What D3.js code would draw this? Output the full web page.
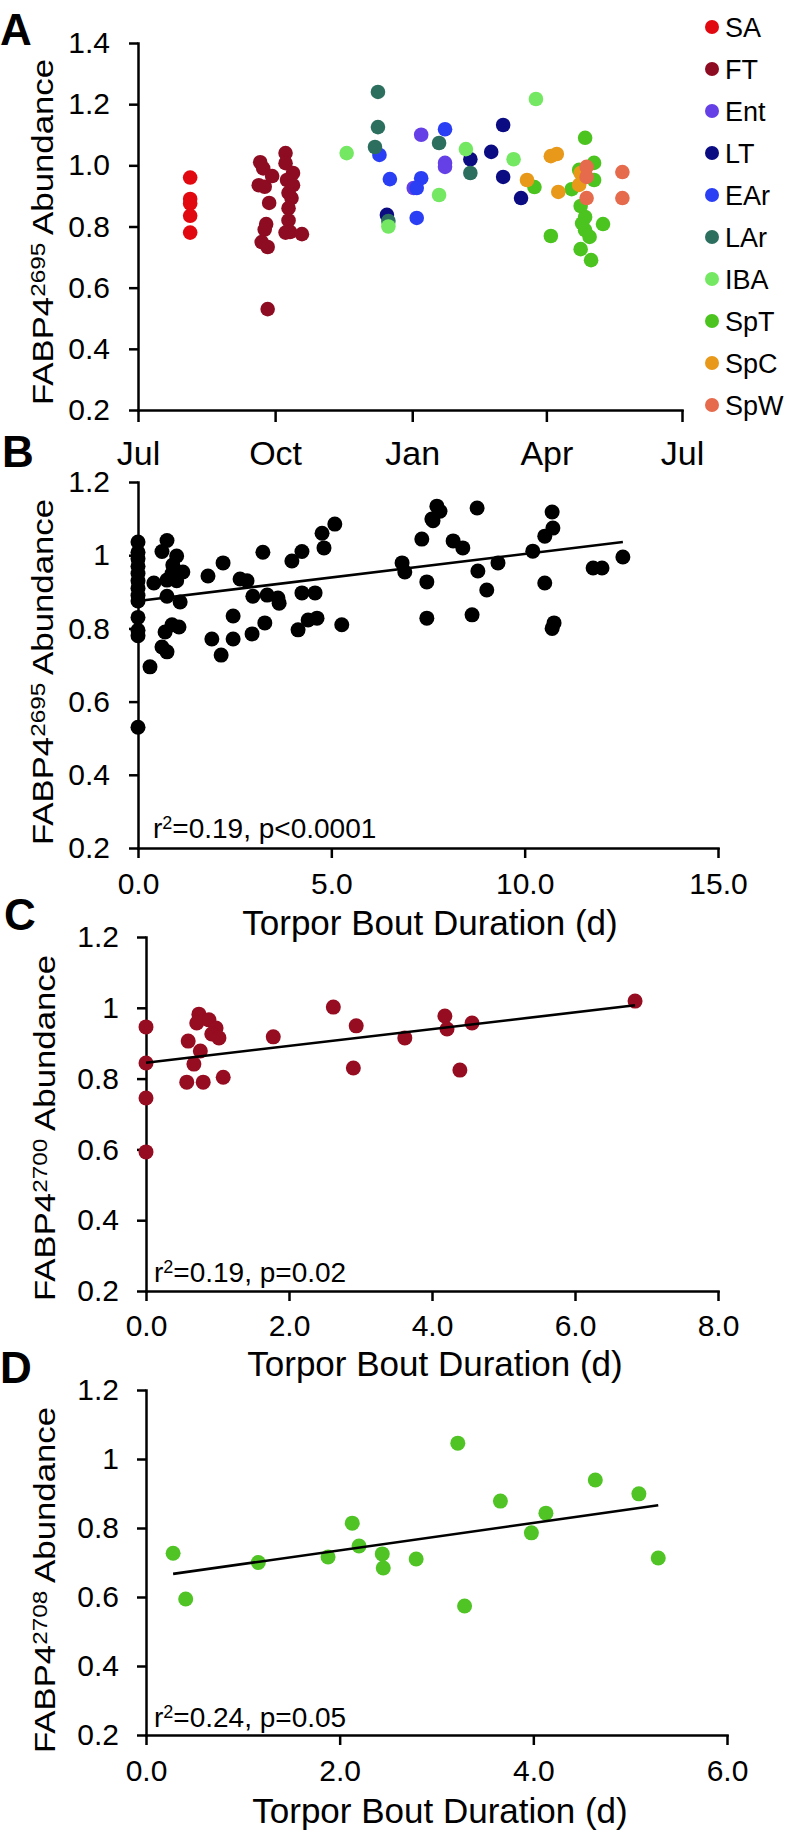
<!DOCTYPE html>
<html><head><meta charset="utf-8">
<script src="https://cdn.jsdelivr.net/npm/d3@7"></script>
<style>body{margin:0;background:#fff}</style>
</head><body><svg id="chart" width="788" height="1832"></svg>
<script>
// ---------------- DATA ----------------
const groups = ["SA","FT","Ent","LT","EAr","LAr","IBA","SpT","SpC","SpW"];
const groupColors = ["#e2080f","#8e0c22","#6440e6","#0c0c82","#2a3ef4","#2d6f5f","#74e862","#4cc420","#e8991a","#e66a4c"];

const saPoints = [["2013-08-05",0.96],["2013-08-05",0.89],["2013-08-05",0.875],["2013-08-05",0.835],["2013-08-05",0.78]];
const ftPoints = [["2013-09-21",1.01],["2013-09-23",0.99],["2013-09-29",0.965],["2013-09-20",0.935],["2013-09-24",0.93],
  ["2013-09-27",0.877],["2013-09-25",0.808],["2013-09-24",0.79],["2013-09-22",0.749],["2013-09-26",0.733],["2013-09-26",0.53],
  ["2013-10-08",1.04],["2013-10-08",1.007],["2013-10-13",0.975],["2013-10-09",0.952],["2013-10-13",0.935],["2013-10-10",0.91],
  ["2013-10-12",0.893],["2013-10-10",0.86],["2013-10-10",0.82],["2013-10-11",0.782],["2013-10-08",0.78],["2013-10-19",0.775]];
const entPoints = [["2014-01-07",1.10],["2014-01-23",1.008],["2014-01-23",0.995],["2014-01-02",0.926]];
const ltPoints = [["2013-12-15",0.838],["2014-02-09",1.02],["2014-02-23",1.044],["2014-03-03",1.132],["2014-03-03",0.962],["2014-03-15",0.893]];
const earPoints = [["2013-12-10",1.034],["2013-12-17",0.955],["2014-01-23",1.118],["2014-01-07",0.958],["2014-01-04",0.926],["2014-01-04",0.828]];
const larPoints = [["2013-12-09",1.24],["2013-12-09",1.125],["2013-12-07",1.06],["2013-12-16",0.818],["2014-01-19",1.073],["2014-02-09",0.975]];
const ibaPoints = [["2013-11-18",1.04],["2013-12-16",0.80],["2014-01-19",0.903],["2014-02-06",1.053],["2014-03-10",1.02],["2014-03-25",1.217]];
const sptPoints = [["2014-03-24",0.929],["2014-04-18",0.922],["2014-04-27",1.09],["2014-05-03",1.008],["2014-04-23",0.985],["2014-05-03",0.952],
  ["2014-04-24",0.867],["2014-04-27",0.831],["2014-04-25",0.81],["2014-04-27",0.788],["2014-04-30",0.766],["2014-05-09",0.808],
  ["2014-04-04",0.769],["2014-04-24",0.726],["2014-05-01",0.69]];
const spcPoints = [["2014-04-04",1.03],["2014-04-08",1.037],["2014-03-19",0.952],["2014-04-09",0.913],["2014-04-24",0.975],["2014-04-23",0.936]];
const spwPoints = [["2014-04-28",0.995],["2014-04-28",0.962],["2014-04-28",0.893],["2014-05-22",0.978],["2014-05-22",0.893]];

const monthTickDates = ["2013-07-01","2013-10-01","2014-01-01","2014-04-01","2014-07-01"];
const monthTickLabels = ["Jul","Oct","Jan","Apr","Jul"];
const aYTicks = [0.2,0.4,0.6,0.8,1.0,1.2,1.4];
const aYLabels = ["0.2","0.4","0.6","0.8","1.0","1.2","1.4"];
const yTicks = [0.2,0.4,0.6,0.8,1.0,1.2];
const yLabels = ["0.2","0.4","0.6","0.8","1","1.2"];

const bPoints = [[0,1.036],[0,1.008],[0,0.99],[0,0.97],[0,0.95],[0,0.93],[0,0.91],[0,0.89],[0,0.875],[0,0.83],[0,0.795],[0,0.78],[0,0.53],
  [0.75,1.04],[0.62,1.01],[1.0,0.998],[0.9,0.973],[1.16,0.954],[0.88,0.95],[0.75,0.932],[1.0,0.93],[0.41,0.924],[0.75,0.888],[1.09,0.872],
  [0.88,0.81],[1.06,0.804],[0.70,0.79],[0.62,0.749],[0.75,0.736],[0.31,0.695],
  [1.81,0.943],[2.2,0.979],[3.23,1.008],[2.64,0.935],[2.82,0.93],[2.97,0.888],[3.34,0.891],[3.62,0.883],[3.65,0.869],[2.46,0.834],
  [1.91,0.771],[2.46,0.771],[2.95,0.785],[3.28,0.815],[2.15,0.727],
  [3.98,0.984],[4.24,1.01],[4.24,0.897],[4.14,0.796],[4.4,0.823],
  [5.09,1.085],[4.76,1.06],[4.81,1.02],[4.58,0.897],[4.63,0.828],[5.27,0.81],
  [7.63,1.094],[7.34,1.044],[8.15,1.039],[8.4,1.02],[6.83,0.979],[6.9,0.954],[7.47,0.927],[7.47,0.828],[8.79,0.957],[9.02,0.905],
  [8.64,0.837],[9.31,0.979],[7.73,1.134],[7.81,1.12],[7.6,1.099],[8.77,1.129],
  [10.71,1.118],[10.73,1.074],[10.52,1.052],[10.21,1.011],[10.52,0.924],[10.76,0.815],[10.71,0.80],[11.77,0.965],[12.0,0.965],[12.54,0.995]];
const bTrend = [[0,0.875],[12.54,1.036]];
const bXTicks = [0,5,10,15];
const bXLabels = ["0.0","5.0","10.0","15.0"];

const cPoints = [[0,0.946],[0,0.844],[0,0.745],[0,0.593],[0.74,0.982],[0.71,0.957],[0.88,0.966],[0.98,0.943],[0.92,0.926],[1.02,0.915],
  [0.59,0.906],[0.76,0.878],[0.67,0.841],[0.57,0.79],[0.8,0.79],[1.08,0.804],[1.78,0.918],[2.62,1.002],[2.94,0.949],[2.9,0.83],
  [3.62,0.915],[4.18,0.977],[4.21,0.94],[4.39,0.824],[4.56,0.957],[6.84,1.019]];
const cTrend = [[0,0.845],[6.84,1.007]];
const cXTicks = [0,2,4,6,8];
const cXLabels = ["0.0","2.0","4.0","6.0","8.0"];

const dPoints = [[0.28,0.727],[0.41,0.594],[1.16,0.70],[1.88,0.716],[2.13,0.814],[2.2,0.748],[2.44,0.725],[2.45,0.684],[2.79,0.71],
  [3.22,1.046],[3.29,0.574],[3.66,0.878],[3.98,0.786],[4.13,0.843],[4.64,0.939],[5.09,0.899],[5.29,0.713]];
const dTrend = [[0.28,0.667],[5.29,0.866]];
const dXTicks = [0,2,4,6];
const dXLabels = ["0.0","2.0","4.0","6.0"];

// ---------------- DRAWING ----------------
const FONT = "'Liberation Sans', Arial, Helvetica, sans-serif";
const svg = d3.select("#chart");
svg.append("rect").attr("width",788).attr("height",1832).attr("fill","#fff");
const parse = d3.timeParse("%Y-%m-%d");

function styleAxis(sel, fs) {
  sel.attr("font-size", null).attr("font-family", null);
  sel.select(".domain").attr("stroke","#000").attr("stroke-width",2.5).attr("stroke-linecap","square");
  sel.selectAll(".tick line").attr("stroke","#000").attr("stroke-width",2.5);
  sel.selectAll(".tick text").attr("fill","#000").attr("font-size",fs).attr("font-family",FONT);
}

function yTitle(cx, cy, sup) {
  const t = svg.append("text")
    .attr("transform",`translate(${cx},${cy}) rotate(-90) scale(1.16,1)`)
    .attr("text-anchor","middle").attr("font-size",30).attr("font-family",FONT).attr("fill","#000");
  t.append("tspan").text("FABP4");
  t.append("tspan").attr("font-size",21).attr("dy",-8).text(sup);
  t.append("tspan").attr("dy",8).text(" Abundance");
}

function panelLetter(x, y, s) {
  svg.append("text").attr("x",x).attr("y",y).attr("font-size",44).attr("font-weight","bold")
    .attr("font-family",FONT).attr("fill","#000").text(s);
}

function xTitle(cx, y) {
  svg.append("text").attr("x",cx).attr("y",y).attr("text-anchor","middle").attr("font-size",35)
    .attr("font-family",FONT).attr("fill","#000").text("Torpor Bout Duration (d)");
}

function statText(x, y, r2, p) {
  const t = svg.append("text").attr("x",x).attr("y",y).attr("font-size",28).attr("font-family",FONT).attr("fill","#000");
  t.append("tspan").text("r");
  t.append("tspan").attr("font-size",18).attr("dy",-9).text("2");
  t.append("tspan").attr("dy",9).text("=" + r2 + ", " + p);
}

// ---- Panel A ----
const xA = d3.scaleTime().domain([parse("2013-07-01"), parse("2014-07-01")]).range([138, 682]);
const yA = d3.scaleLinear().domain([0.2, 1.4]).range([410, 43]);
svg.append("g").attr("transform","translate(0,410)")
  .call(d3.axisBottom(xA).tickValues(monthTickDates.map(parse)).tickFormat((d,i)=>monthTickLabels[i])
    .tickSize(12).tickSizeOuter(0).tickPadding(19))
  .call(s=>styleAxis(s,34));
svg.append("g").attr("transform","translate(138,0)")
  .call(d3.axisLeft(yA).tickValues(aYTicks).tickFormat((d,i)=>aYLabels[i]).tickSize(9).tickSizeOuter(0).tickPadding(19))
  .call(s=>styleAxis(s,30));

const groupPoints = [saPoints, ftPoints, entPoints, ltPoints, earPoints, larPoints, ibaPoints, sptPoints, spcPoints, spwPoints];
groupPoints.forEach((pts, gi) => {
  svg.append("g").selectAll("circle").data(pts).join("circle")
    .attr("cx", d => xA(parse(d[0]))).attr("cy", d => yA(d[1])).attr("r", 7.3)
    .attr("fill", groupColors[gi]);
});
// legend
const legY = d3.scalePoint().domain(groups).range([27, 405]);
const leg = svg.append("g");
groups.forEach((gname, i) => {
  leg.append("circle").attr("cx",712).attr("cy",legY(gname)).attr("r",7).attr("fill",groupColors[i]);
  leg.append("text").attr("x",725).attr("y",legY(gname)+9.5).attr("font-size",27).attr("font-family",FONT)
    .attr("fill","#000").text(gname);
});
yTitle(53, 232, "2695");
panelLetter(0, 45, "A");

// ---- generic duration panel ----
function durationPanel(o) {
  const x = d3.scaleLinear().domain(o.xDomain).range(o.xRange);
  const y = d3.scaleLinear().domain([0.2, 1.2]).range(o.yRange);
  svg.append("g").attr("transform",`translate(0,${o.yRange[0]})`)
    .call(d3.axisBottom(x).tickValues(o.xTicks).tickFormat((d,i)=>o.xLabels[i]).tickSize(10).tickSizeOuter(0).tickPadding(o.xPad))
    .call(s=>styleAxis(s,30));
  svg.append("g").attr("transform",`translate(${o.xRange[0]},0)`)
    .call(d3.axisLeft(y).tickValues(yTicks).tickFormat((d,i)=>yLabels[i]).tickSize(9).tickSizeOuter(0).tickPadding(o.yPad))
    .call(s=>styleAxis(s,30));
  svg.append("g").selectAll("circle").data(o.points).join("circle")
    .attr("cx", d => x(d[0])).attr("cy", d => y(d[1])).attr("r", 7.5).attr("fill", o.color);
  svg.append("path").datum(o.trend)
    .attr("d", d3.line().x(d => x(d[0])).y(d => y(d[1])))
    .attr("stroke","#000").attr("stroke-width",2.6).attr("fill","none");
}

durationPanel({xDomain:[0,15], xRange:[138,718], yRange:[848,482], xTicks:bXTicks, xLabels:bXLabels,
  points:bPoints, trend:bTrend, color:"#000", xPad:15, yPad:19});
yTitle(53, 672, "2695");
xTitle(430, 935);
statText(153, 838, "0.19", "p<0.0001");
panelLetter(2, 467, "B");

durationPanel({xDomain:[0,8], xRange:[146,718], yRange:[1291,937], xTicks:cXTicks, xLabels:cXLabels,
  points:cPoints, trend:cTrend, color:"#960c21", xPad:14, yPad:18});
yTitle(55, 1128, "2700");
xTitle(435, 1376);
statText(154, 1282, "0.19", "p=0.02");
panelLetter(4, 930, "C");

durationPanel({xDomain:[0,6], xRange:[146,727], yRange:[1735,1390], xTicks:dXTicks, xLabels:dXLabels,
  points:dPoints, trend:dTrend, color:"#4fc424", xPad:15, yPad:18});
yTitle(55, 1580, "2708");
xTitle(440, 1823);
statText(154, 1727, "0.24", "p=0.05");
panelLetter(0, 1383, "D");
</script>
</body></html>
